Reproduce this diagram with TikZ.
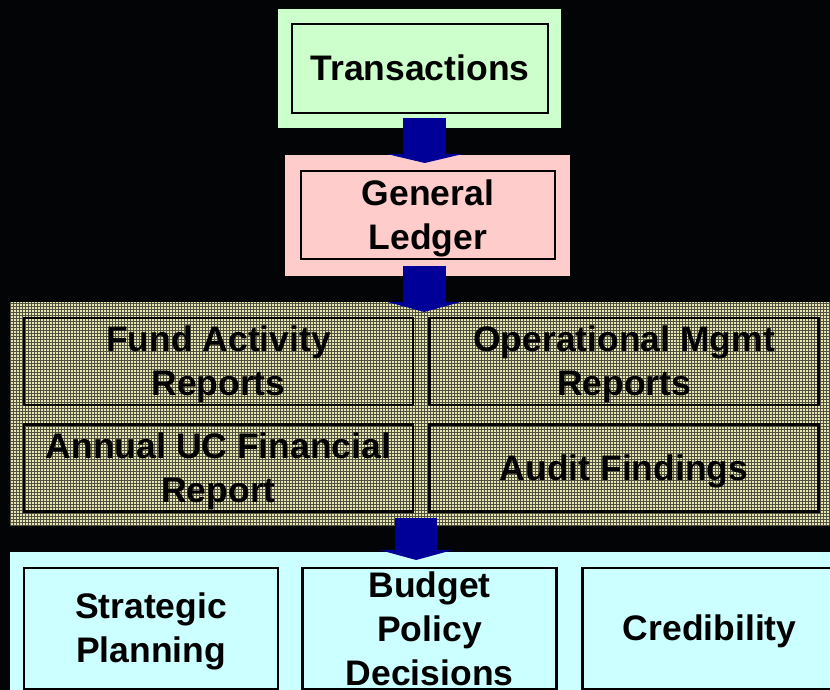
\documentclass[tikz,border=0pt]{standalone}
\usepackage{fontspec}
\setmainfont{Liberation Sans}
\usepackage{tikz}
\usetikzlibrary{arrows.meta,positioning,patterns.meta}
\definecolor{mintpanel}{HTML}{CCFFCC}
\definecolor{rosepanel}{HTML}{FFCCCC}
\definecolor{icepanel}{HTML}{CCFFFF}
\definecolor{clothdark}{HTML}{505040}
\definecolor{clothpale}{HTML}{E8E6B2}
\definecolor{flownavy}{HTML}{000099}
\definecolor{nightbg}{HTML}{020406}
% ascent/descent of a text line, so boxes centre like the slide text
\newcommand\ls{\rule[-7.5pt]{0pt}{39.5pt}}

\begin{document}
\begin{tikzpicture}[
    x=1pt, y=1pt,
    panel/.style={rectangle, draw=none, inner sep=0pt, anchor=north west},
    cloth/.style={panel, fill=clothdark,
                  postaction={pattern={Lines[angle=90, distance=3pt, line width=1.9pt]}, pattern color=clothpale},
                  postaction={pattern={Lines[angle=0, distance=3pt, line width=0.5pt]}, pattern color=clothdark}},
    box/.style={rectangle, draw=black, line width=2.6pt, inner sep=0pt, align=center,
                font=\bfseries\fontsize{35.5}{44}\selectfont},
    flow/.style={-{Triangle[width=76pt, length=9pt]}, flownavy, line width=43pt}
  ]
  % page and background
  \fill[nightbg] (0,0) rectangle (830,690);
  \useasboundingbox (0,0) rectangle (830,690);

  % panels
  \node[panel, fill=mintpanel, minimum width=283pt, minimum height=119pt] (source) at (278,681) {};
  \node[panel, fill=rosepanel, minimum width=285pt, minimum height=121pt] (ledger) at (285,535) {};
  \node[cloth, minimum width=825pt, minimum height=224pt] (reports) at (10,388) {};
  \node[panel, fill=icepanel, minimum width=825pt, minimum height=143pt] (uses) at (10,138) {};

  % boxes
  \node[box, minimum width=256pt, minimum height=89pt] (trans) at (420,621.5) {\ls Transactions};
  \node[box, minimum width=254pt, minimum height=88pt] (gl) at (428,475) {\ls General\\Ledger\ls};

  \node[box, minimum width=389pt, minimum height=87pt] (fund) at (218.5,328.5) {\ls Fund Activity\\Reports\ls};
  \node[box, minimum width=389pt, minimum height=87pt, right=14pt of fund] (opmgmt) {\ls Operational Mgmt\\Reports\ls};
  \node[box, minimum width=389pt, minimum height=87pt, below=17pt of fund] (annual) {\ls Annual UC Financial\\Report\ls};
  \node[box, minimum width=389pt, minimum height=87pt, right=14pt of annual] (audit) {\ls Audit Findings};

  \node[box, minimum width=254pt, minimum height=121pt] (strategic) at (151,61.5) {\ls Strategic\\Planning\ls};
  \node[box, minimum width=254pt, minimum height=121pt, right=22pt of strategic] (budget) {Budget\\Policy\\Decisions};
  \node[box, minimum width=255pt, minimum height=121pt, right=23pt of budget] (cred) {\ls Credibility};

  % block arrows between the panels
  \draw[flow] ([xshift=5pt, yshift=10pt]source.south) -- ([xshift=-3pt, yshift=-8pt]ledger.north);
  \draw[flow, -{Triangle[width=73pt, length=10pt]}] ([xshift=-3.5pt, yshift=10pt]ledger.south) -- ([xshift=1.5pt, yshift=-10pt]reports.north);
  \draw[flow, line width=42pt, -{Triangle[width=73pt, length=10pt]}] ([xshift=-6.5pt, yshift=8pt]reports.south) -- ([xshift=-6.5pt, yshift=-8pt]uses.north);
\end{tikzpicture}
\end{document}
